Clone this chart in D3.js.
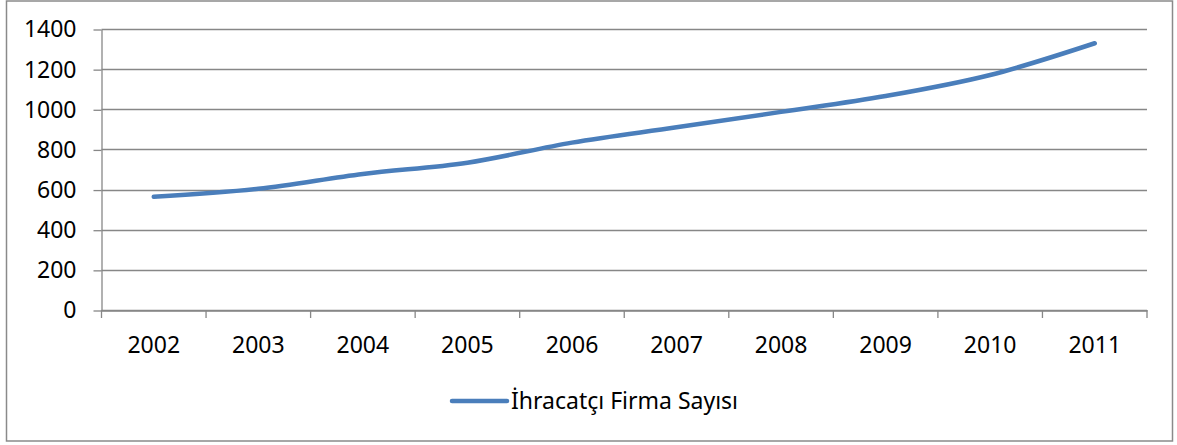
<!DOCTYPE html>
<html>
<head>
<meta charset="utf-8">
<script src="https://cdn.jsdelivr.net/npm/d3@7"></script>
<style>
  body { margin: 0; background: #fff; }
  svg { display: block; font-family: "Noto Sans", sans-serif; }
</style>
</head>
<body>
<div id="chart"></div>
<script>
// Years on the x axis
const years = ["2002", "2003", "2004", "2005", "2006", "2007", "2008", "2009", "2010", "2011"];
// Number of exporting firms
const firmCounts = [564, 604, 678, 734, 834, 910, 987, 1066, 1171, 1329];
// Y axis ticks
const yTicks = [0, 200, 400, 600, 800, 1000, 1200, 1400];
const seriesName = "İhracatçı Firma Sayısı";

const width = 1177;
const height = 445;
const lineColor = "#4a7ebb";
const gridColor = "#878787";

const svg = d3.select("#chart")
  .append("svg")
  .attr("width", width)
  .attr("height", height);

// outer chart border
svg.append("rect")
  .attr("x", 6.5)
  .attr("y", 1)
  .attr("width", 1166)
  .attr("height", 440)
  .attr("fill", "none")
  .attr("stroke", "#8a8a8a")
  .attr("stroke-width", 1.5);

const x = d3.scaleBand()
  .domain(years)
  .range([101.5, 1147]);

const y = d3.scaleLinear()
  .domain([0, 1400])
  .range([310, 29]);

// horizontal gridlines
svg.append("g")
  .selectAll("line")
  .data(yTicks)
  .enter()
  .append("line")
  .attr("x1", 101.5)
  .attr("x2", 1147)
  .attr("y1", d => Math.round(y(d)) + 0.5)
  .attr("y2", d => Math.round(y(d)) + 0.5)
  .attr("stroke", gridColor)
  .attr("stroke-width", 1.3);

// y axis
const yAxis = svg.append("g")
  .attr("transform", "translate(101.5,0.5)")
  .call(d3.axisLeft(y).tickValues(yTicks).tickFormat(d3.format("d"))
    .tickSize(8).tickPadding(17).tickSizeOuter(0));

// x axis
const xAxis = svg.append("g")
  .attr("transform", `translate(0,${Math.round(y(0)) + 0.5})`)
  .call(d3.axisBottom(x).tickSize(0).tickPadding(26).tickSizeOuter(0));

// category boundary ticks
svg.append("g")
  .selectAll("line")
  .data(years.concat(["end"]))
  .enter()
  .append("line")
  .attr("x1", (d, i) => i < years.length ? x(d) : x.range()[1])
  .attr("x2", (d, i) => i < years.length ? x(d) : x.range()[1])
  .attr("y1", y(0))
  .attr("y2", y(0) + 8)
  .attr("stroke", gridColor)
  .attr("stroke-width", 1.3);

[yAxis, xAxis].forEach(ax => {
  ax.selectAll(".domain").attr("stroke", gridColor).attr("stroke-width", 1.3);
  ax.selectAll(".tick line").attr("stroke", gridColor).attr("stroke-width", 1.3);
  ax.selectAll("text").attr("fill", "#000").style("font-size", "23px").style("font-family", "Noto Sans");
});

// the series line, smoothed like the original
const line = d3.line()
  .x((d, i) => x(years[i]) + x.bandwidth() / 2)
  .y(d => y(d))
  .curve(d3.curveCatmullRom.alpha(0));

svg.append("path")
  .datum(firmCounts)
  .attr("d", line)
  .attr("fill", "none")
  .attr("stroke", lineColor)
  .attr("stroke-width", 4.5)
  .attr("stroke-linecap", "round");

// legend
const legend = svg.append("g").attr("transform", "translate(452,401)");
legend.append("line")
  .attr("x1", 0)
  .attr("x2", 55)
  .attr("stroke", lineColor)
  .attr("stroke-width", 4.5)
  .attr("stroke-linecap", "round");
legend.append("text")
  .attr("x", 59)
  .attr("y", 8)
  .style("font-size", "23px")
  .text(seriesName);
</script>
</body>
</html>
